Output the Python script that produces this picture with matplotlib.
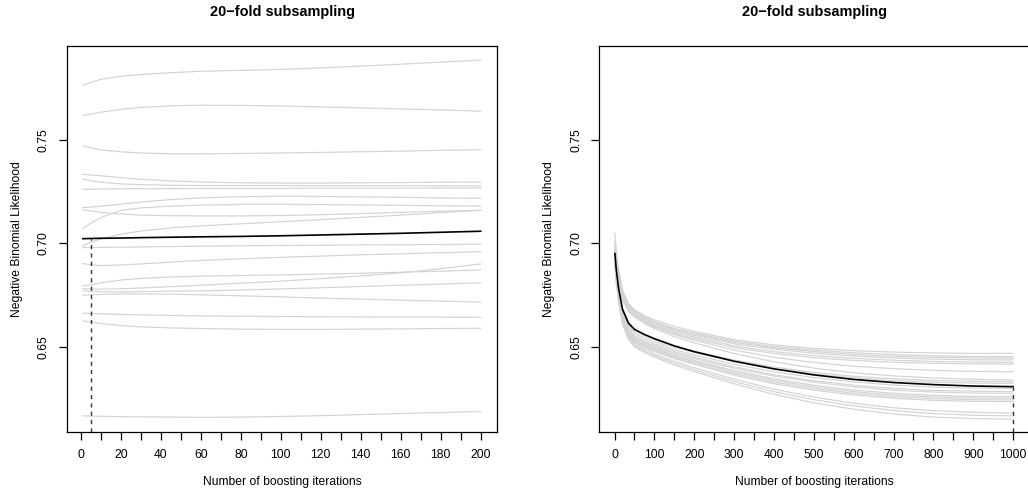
import matplotlib
matplotlib.use("Agg")
import matplotlib.pyplot as plt
from matplotlib.ticker import FixedLocator, FixedFormatter

plt.rcParams['font.family'] = ['Liberation Sans', 'DejaVu Sans']

TITLE = "20\u2212fold subsampling"
XLABEL = "Number of boosting iterations"
YLABEL = "Negative Binomial Likelihood"

# ---- left panel: risk over 200 boosting iterations, one curve per fold ----
left_iter = [1, 5, 10, 20, 30, 45, 60, 80, 100, 120, 140, 160, 180, 200]
left_folds = [
    [0.7764, 0.7778, 0.7793, 0.7808, 0.7816, 0.7825, 0.7832, 0.7836, 0.7841, 0.7848, 0.7857, 0.7866, 0.7876, 0.7886],
    [0.7619, 0.7625, 0.7634, 0.7648, 0.7657, 0.7665, 0.7668, 0.7667, 0.7664, 0.7660, 0.7655, 0.7650, 0.7645, 0.7639],
    [0.7471, 0.7462, 0.7452, 0.7443, 0.7437, 0.7433, 0.7433, 0.7435, 0.7437, 0.7440, 0.7443, 0.7446, 0.7450, 0.7453],
    [0.7334, 0.7331, 0.7327, 0.7318, 0.7310, 0.7302, 0.7297, 0.7293, 0.7292, 0.7292, 0.7293, 0.7294, 0.7296, 0.7297],
    [0.7310, 0.7303, 0.7296, 0.7288, 0.7284, 0.7281, 0.7280, 0.7280, 0.7280, 0.7279, 0.7279, 0.7279, 0.7279, 0.7278],
    [0.7262, 0.7262, 0.7263, 0.7264, 0.7265, 0.7265, 0.7266, 0.7266, 0.7266, 0.7267, 0.7267, 0.7267, 0.7268, 0.7268],
    [0.7173, 0.7176, 0.7180, 0.7190, 0.7200, 0.7212, 0.7220, 0.7226, 0.7228, 0.7227, 0.7225, 0.7223, 0.7220, 0.7218],
    [0.7162, 0.7157, 0.7150, 0.7142, 0.7137, 0.7134, 0.7133, 0.7133, 0.7135, 0.7139, 0.7144, 0.7150, 0.7156, 0.7160],
    [0.7073, 0.7098, 0.7125, 0.7160, 0.7172, 0.7180, 0.7185, 0.7189, 0.7189, 0.7188, 0.7186, 0.7184, 0.7182, 0.7181],
    [0.6988, 0.7005, 0.7022, 0.7045, 0.7060, 0.7075, 0.7085, 0.7095, 0.7105, 0.7115, 0.7126, 0.7137, 0.7149, 0.7160],
    [0.6980, 0.6980, 0.6981, 0.6982, 0.6983, 0.6985, 0.6987, 0.6989, 0.6990, 0.6991, 0.6993, 0.6994, 0.6995, 0.6996],
    [0.6903, 0.6897, 0.6893, 0.6896, 0.6901, 0.6910, 0.6918, 0.6926, 0.6933, 0.6939, 0.6945, 0.6950, 0.6955, 0.6960],
    [0.6795, 0.6800, 0.6810, 0.6823, 0.6831, 0.6838, 0.6842, 0.6845, 0.6848, 0.6852, 0.6856, 0.6861, 0.6866, 0.6872],
    [0.6782, 0.6780, 0.6779, 0.6781, 0.6785, 0.6791, 0.6798, 0.6808, 0.6818, 0.6830, 0.6843, 0.6858, 0.6878, 0.6901],
    [0.6771, 0.6769, 0.6767, 0.6766, 0.6767, 0.6769, 0.6771, 0.6775, 0.6780, 0.6786, 0.6792, 0.6798, 0.6804, 0.6810],
    [0.6750, 0.6752, 0.6754, 0.6756, 0.6756, 0.6755, 0.6752, 0.6747, 0.6742, 0.6736, 0.6731, 0.6726, 0.6721, 0.6717],
    [0.6663, 0.6662, 0.6660, 0.6657, 0.6655, 0.6652, 0.6650, 0.6648, 0.6647, 0.6646, 0.6645, 0.6644, 0.6644, 0.6643],
    [0.6626, 0.6620, 0.6613, 0.6603, 0.6597, 0.6592, 0.6589, 0.6586, 0.6585, 0.6585, 0.6586, 0.6587, 0.6589, 0.6590],
    [0.6167, 0.6166, 0.6165, 0.6163, 0.6162, 0.6161, 0.6160, 0.6161, 0.6164, 0.6168, 0.6173, 0.6178, 0.6183, 0.6188],
]
left_mean = [0.7023, 0.7024, 0.7025, 0.7026, 0.7028, 0.7030, 0.7032, 0.7034, 0.7037, 0.7041, 0.7045, 0.7049, 0.7054, 0.7059]
left_mstop = 5

# ---- right panel: risk over 1000 boosting iterations ----
right_iter = [1, 4, 10, 20, 35, 50, 75, 100, 150, 200, 300, 400, 500, 600, 700, 800, 900, 1000]
right_folds = [
    [0.7000, 0.6936, 0.6856, 0.6766, 0.6707, 0.6680, 0.6652, 0.6630, 0.6600, 0.6575, 0.6535, 0.6510, 0.6493, 0.6482, 0.6475, 0.6471, 0.6469, 0.6469],
    [0.7050, 0.6975, 0.6881, 0.6776, 0.6707, 0.6675, 0.6645, 0.6622, 0.6590, 0.6567, 0.6528, 0.6502, 0.6485, 0.6472, 0.6463, 0.6457, 0.6454, 0.6453],
    [0.6980, 0.6918, 0.6841, 0.6754, 0.6696, 0.6670, 0.6641, 0.6618, 0.6585, 0.6562, 0.6522, 0.6496, 0.6478, 0.6464, 0.6455, 0.6450, 0.6447, 0.6445],
    [0.7010, 0.6942, 0.6856, 0.6760, 0.6697, 0.6668, 0.6637, 0.6612, 0.6580, 0.6556, 0.6515, 0.6489, 0.6470, 0.6456, 0.6447, 0.6441, 0.6438, 0.6437],
    [0.6960, 0.6900, 0.6825, 0.6741, 0.6686, 0.6660, 0.6630, 0.6605, 0.6572, 0.6548, 0.6505, 0.6477, 0.6458, 0.6445, 0.6436, 0.6430, 0.6427, 0.6425],
    [0.6990, 0.6923, 0.6839, 0.6745, 0.6683, 0.6655, 0.6625, 0.6600, 0.6566, 0.6540, 0.6497, 0.6468, 0.6448, 0.6435, 0.6426, 0.6421, 0.6418, 0.6417],
    [0.6970, 0.6906, 0.6826, 0.6736, 0.6677, 0.6650, 0.6620, 0.6595, 0.6560, 0.6533, 0.6485, 0.6450, 0.6425, 0.6407, 0.6395, 0.6387, 0.6382, 0.6380],
    [0.6950, 0.6889, 0.6813, 0.6727, 0.6671, 0.6645, 0.6614, 0.6588, 0.6550, 0.6520, 0.6468, 0.6428, 0.6398, 0.6375, 0.6360, 0.6350, 0.6344, 0.6340],
    [0.6940, 0.6867, 0.6776, 0.6674, 0.6606, 0.6575, 0.6553, 0.6535, 0.6505, 0.6480, 0.6437, 0.6403, 0.6377, 0.6358, 0.6346, 0.6338, 0.6334, 0.6332],
    [0.6970, 0.6889, 0.6788, 0.6674, 0.6599, 0.6565, 0.6543, 0.6525, 0.6497, 0.6473, 0.6430, 0.6396, 0.6370, 0.6350, 0.6337, 0.6329, 0.6325, 0.6324],
    [0.6920, 0.6847, 0.6756, 0.6654, 0.6586, 0.6555, 0.6533, 0.6515, 0.6486, 0.6461, 0.6416, 0.6380, 0.6352, 0.6331, 0.6316, 0.6306, 0.6301, 0.6300],
    [0.6950, 0.6870, 0.6769, 0.6657, 0.6582, 0.6548, 0.6525, 0.6507, 0.6477, 0.6451, 0.6404, 0.6366, 0.6337, 0.6315, 0.6300, 0.6290, 0.6286, 0.6284],
    [0.6930, 0.6852, 0.6755, 0.6647, 0.6575, 0.6542, 0.6519, 0.6500, 0.6470, 0.6444, 0.6397, 0.6359, 0.6330, 0.6307, 0.6291, 0.6282, 0.6277, 0.6276],
    [0.6960, 0.6875, 0.6769, 0.6650, 0.6571, 0.6535, 0.6512, 0.6493, 0.6462, 0.6435, 0.6386, 0.6346, 0.6315, 0.6292, 0.6276, 0.6266, 0.6261, 0.6260],
    [0.6910, 0.6834, 0.6739, 0.6633, 0.6562, 0.6530, 0.6507, 0.6488, 0.6456, 0.6429, 0.6379, 0.6338, 0.6307, 0.6284, 0.6268, 0.6258, 0.6253, 0.6252],
    [0.6940, 0.6857, 0.6753, 0.6637, 0.6560, 0.6525, 0.6501, 0.6482, 0.6450, 0.6422, 0.6371, 0.6330, 0.6299, 0.6276, 0.6260, 0.6250, 0.6245, 0.6244],
    [0.6900, 0.6824, 0.6729, 0.6623, 0.6552, 0.6520, 0.6496, 0.6477, 0.6444, 0.6416, 0.6364, 0.6322, 0.6291, 0.6268, 0.6252, 0.6242, 0.6237, 0.6236],
    [0.6920, 0.6838, 0.6736, 0.6622, 0.6547, 0.6512, 0.6487, 0.6466, 0.6430, 0.6400, 0.6344, 0.6296, 0.6258, 0.6228, 0.6206, 0.6192, 0.6184, 0.6180],
    [0.6890, 0.6813, 0.6717, 0.6609, 0.6538, 0.6505, 0.6479, 0.6458, 0.6421, 0.6390, 0.6333, 0.6284, 0.6245, 0.6215, 0.6193, 0.6178, 0.6170, 0.6167],
    [0.6950, 0.6860, 0.6748, 0.6622, 0.6538, 0.6500, 0.6473, 0.6451, 0.6413, 0.6381, 0.6322, 0.6271, 0.6230, 0.6199, 0.6176, 0.6161, 0.6154, 0.6151],
]
right_mean = [0.6951, 0.6880, 0.6785, 0.6682, 0.6615, 0.6585, 0.6560, 0.6540, 0.6505, 0.6477, 0.6431, 0.6394, 0.6365, 0.6343, 0.6328, 0.6318, 0.6311, 0.6308]
right_mstop = 1000

# ---- axes furniture ----
y_ticks = [0.65, 0.70, 0.75]
y_ticklabels = ["0.65", "0.70", "0.75"]
left_xticks = list(range(0, 201, 10))
left_xticklabels = [str(t) if t % 20 == 0 else "" for t in left_xticks]
right_xticks = list(range(0, 1001, 50))
right_xticklabels = [str(t) if t % 100 == 0 else "" for t in right_xticks]
y_range = (0.6089, 0.7954)

W, H = 1028, 495
fig = plt.figure(figsize=(W / 100, H / 100), dpi=100)
ax1 = fig.add_axes([66.7 / W, 63 / H, 430.6 / W, 386 / H])
ax2 = fig.add_axes([599 / W, 63 / H, 430 / W, 386 / H])

FS = 8.7
PX = 72 / 100  # points per pixel


def draw(ax, iters, folds, mean, mstop, xlim, xt, xtl):
    for f in folds:
        ax.plot(iters, f, color="#D3D3D3", lw=0.85, zorder=2)
    ax.plot(iters, mean, color="black", lw=1.2, zorder=3)
    ax.vlines(mstop, y_range[0], mean[iters.index(mstop)], colors="#333333",
              linestyles=(0, (3, 3)), lw=1.0, zorder=3)
    ax.set_xlim(*xlim)
    ax.set_ylim(*y_range)
    ax.xaxis.set_major_locator(FixedLocator(xt))
    ax.xaxis.set_major_formatter(FixedFormatter(xtl))
    ax.yaxis.set_major_locator(FixedLocator(y_ticks))
    ax.yaxis.set_major_formatter(FixedFormatter(y_ticklabels))
    ax.tick_params(direction="out", length=7.7 * PX, width=0.9, colors="black",
                   labelsize=FS)
    ax.tick_params(axis="x", pad=15.3 * PX)
    ax.tick_params(axis="y", pad=15.3 * PX)
    for lab in ax.get_xticklabels():
        lab.set_va("center")
    for lab in ax.get_yticklabels():
        lab.set_rotation(90)
        lab.set_ha("center")
        lab.set_va("center")
    for s in ax.spines.values():
        s.set_linewidth(0.9)
        s.set_color("black")
    ax.annotate(TITLE, xy=(0.5, 1), xycoords="axes fraction",
                xytext=(0, 34 * PX), textcoords="offset points",
                ha="center", va="center", fontsize=FS * 1.2, fontweight="bold")
    ax.annotate(XLABEL, xy=(0.5, 0), xycoords="axes fraction",
                xytext=(0, -50 * PX), textcoords="offset points",
                ha="center", va="center", fontsize=FS)
    ax.annotate(YLABEL, xy=(0, 0.5), xycoords="axes fraction",
                xytext=(-50 * PX, 0), textcoords="offset points",
                ha="center", va="center", fontsize=FS, rotation=90)


draw(ax1, left_iter, left_folds, left_mean, left_mstop, (-7.1, 208.3),
     left_xticks, left_xticklabels)
draw(ax2, right_iter, right_folds, right_mean, right_mstop, (-39, 1040),
     right_xticks, right_xticklabels)

fig.savefig("out.png", dpi=100)
